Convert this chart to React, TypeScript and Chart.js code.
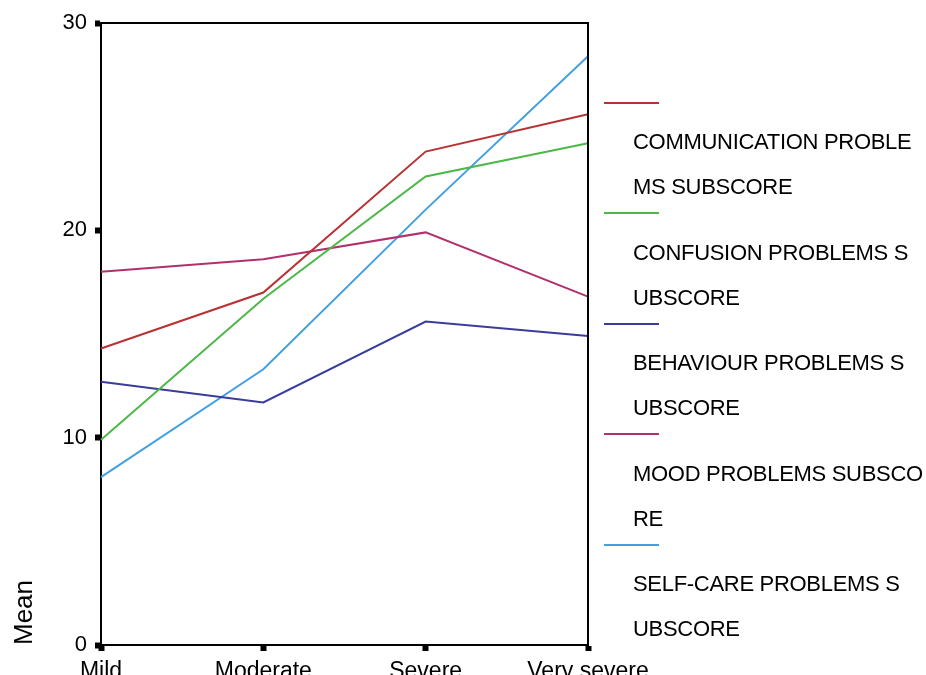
import React, { useEffect, useRef } from "react";
import { Chart, registerables } from "chart.js";

Chart.register(...registerables);

const categories = ["Mild", "Moderate", "Severe", "Very severe"];
const seriesNames = [
  "COMMUNICATION PROBLEMS SUBSCORE",
  "CONFUSION PROBLEMS SUBSCORE",
  "BEHAVIOUR PROBLEMS SUBSCORE",
  "MOOD PROBLEMS SUBSCORE",
  "SELF-CARE PROBLEMS SUBSCORE",
];
const legendLines = [
  ["COMMUNICATION PROBLE", "MS SUBSCORE"],
  ["CONFUSION PROBLEMS S", "UBSCORE"],
  ["BEHAVIOUR PROBLEMS S", "UBSCORE"],
  ["MOOD PROBLEMS SUBSCO", "RE"],
  ["SELF-CARE PROBLEMS S", "UBSCORE"],
];
const communication = [14.3, 17.0, 23.8, 25.6];
const confusion = [9.9, 16.7, 22.6, 24.2];
const behaviour = [12.7, 11.7, 15.6, 14.9];
const mood = [18.0, 18.6, 19.9, 16.8];
const selfCare = [8.1, 13.3, 21.0, 28.4];
const seriesValues = [communication, confusion, behaviour, mood, selfCare];
const colors = ["#b83234", "#4cb848", "#3b3b9b", "#b2306b", "#42a0e2"];
const yTicks = [0, 10, 20, 30];

const FONT = "'Liberation Sans', Arial, sans-serif";

const framePlugin = {
  id: "frame",
  afterDatasetsDraw(chart: any) {
    const { ctx, chartArea } = chart;
    ctx.save();
    ctx.strokeStyle = "#000";
    ctx.lineWidth = 2;
    ctx.beginPath();
    ctx.moveTo(chartArea.left, chartArea.top);
    ctx.lineTo(chartArea.right, chartArea.top);
    ctx.lineTo(chartArea.right, chartArea.bottom);
    ctx.stroke();
    ctx.restore();
  },
};

export default function App() {
  const ref = useRef<HTMLCanvasElement | null>(null);

  useEffect(() => {
    if (!ref.current) return;
    const chart = new Chart(ref.current, {
      type: "line",
      data: {
        labels: categories,
        datasets: seriesNames.map((name, i) => ({
          label: name,
          data: seriesValues[i],
          borderColor: colors[i],
          backgroundColor: colors[i],
          borderWidth: 2,
          pointRadius: 0,
          tension: 0,
          fill: false,
        })),
      },
      options: {
        animation: false,
        responsive: false,
        layout: { padding: { top: 23, right: 72, left: 0, bottom: 0 } },
        plugins: { legend: { display: false }, tooltip: { enabled: false } },
        scales: {
          x: {
            type: "category",
            offset: false,
            afterFit: (s: any) => {
              s.height = 55;
            },
            border: { display: true, color: "#000", width: 2 },
            grid: {
              drawOnChartArea: false,
              drawTicks: true,
              tickLength: 6,
              tickWidth: 6,
              tickColor: "#000",
            },
            ticks: {
              color: "#000",
              padding: 7,
              maxRotation: 0,
              autoSkip: false,
              font: { family: FONT, size: 23 },
            },
          },
          y: {
            min: 0,
            max: 30,
            afterFit: (s: any) => {
              s.width = 101;
            },
            afterBuildTicks: (s: any) => {
              s.ticks = yTicks.map((v) => ({ value: v }));
            },
            border: { display: true, color: "#000", width: 2 },
            grid: {
              drawOnChartArea: false,
              drawTicks: true,
              tickLength: 6,
              tickWidth: 6,
              tickColor: "#000",
            },
            ticks: {
              color: "#000",
              padding: 8,
              font: { family: FONT, size: 22 },
            },
            title: {
              display: true,
              text: "Mean",
              align: "start",
              color: "#000",
              padding: { top: 9, bottom: 0 },
              font: { family: FONT, size: 26 },
            },
          },
        },
      },
      plugins: [framePlugin],
    } as any);
    return () => chart.destroy();
  }, []);

  return (
    <div
      style={{
        position: "fixed",
        left: 0,
        top: 0,
        width: 926,
        height: 675,
        overflow: "hidden",
        background: "#fff",
      }}
    >
      <canvas ref={ref} width={660} height={700} style={{ position: "absolute", left: 0, top: 0 }} />
      {legendLines.map((lines, i) => {
        const lineY = 102.7 + i * 110.5;
        return (
          <React.Fragment key={i}>
            <div
              style={{
                position: "absolute",
                left: 604,
                top: lineY - 1,
                width: 55,
                height: 2,
                background: colors[i],
              }}
            />
            <div
              style={{
                position: "absolute",
                left: 633,
                top: lineY + 16.5,
                fontFamily: FONT,
                fontSize: 22,
                letterSpacing: "-0.3px",
                lineHeight: "45px",
                color: "#000",
                whiteSpace: "nowrap",
              }}
            >
              {lines.map((t, j) => (
                <div key={j}>{t}</div>
              ))}
            </div>
          </React.Fragment>
        );
      })}
    </div>
  );
}
